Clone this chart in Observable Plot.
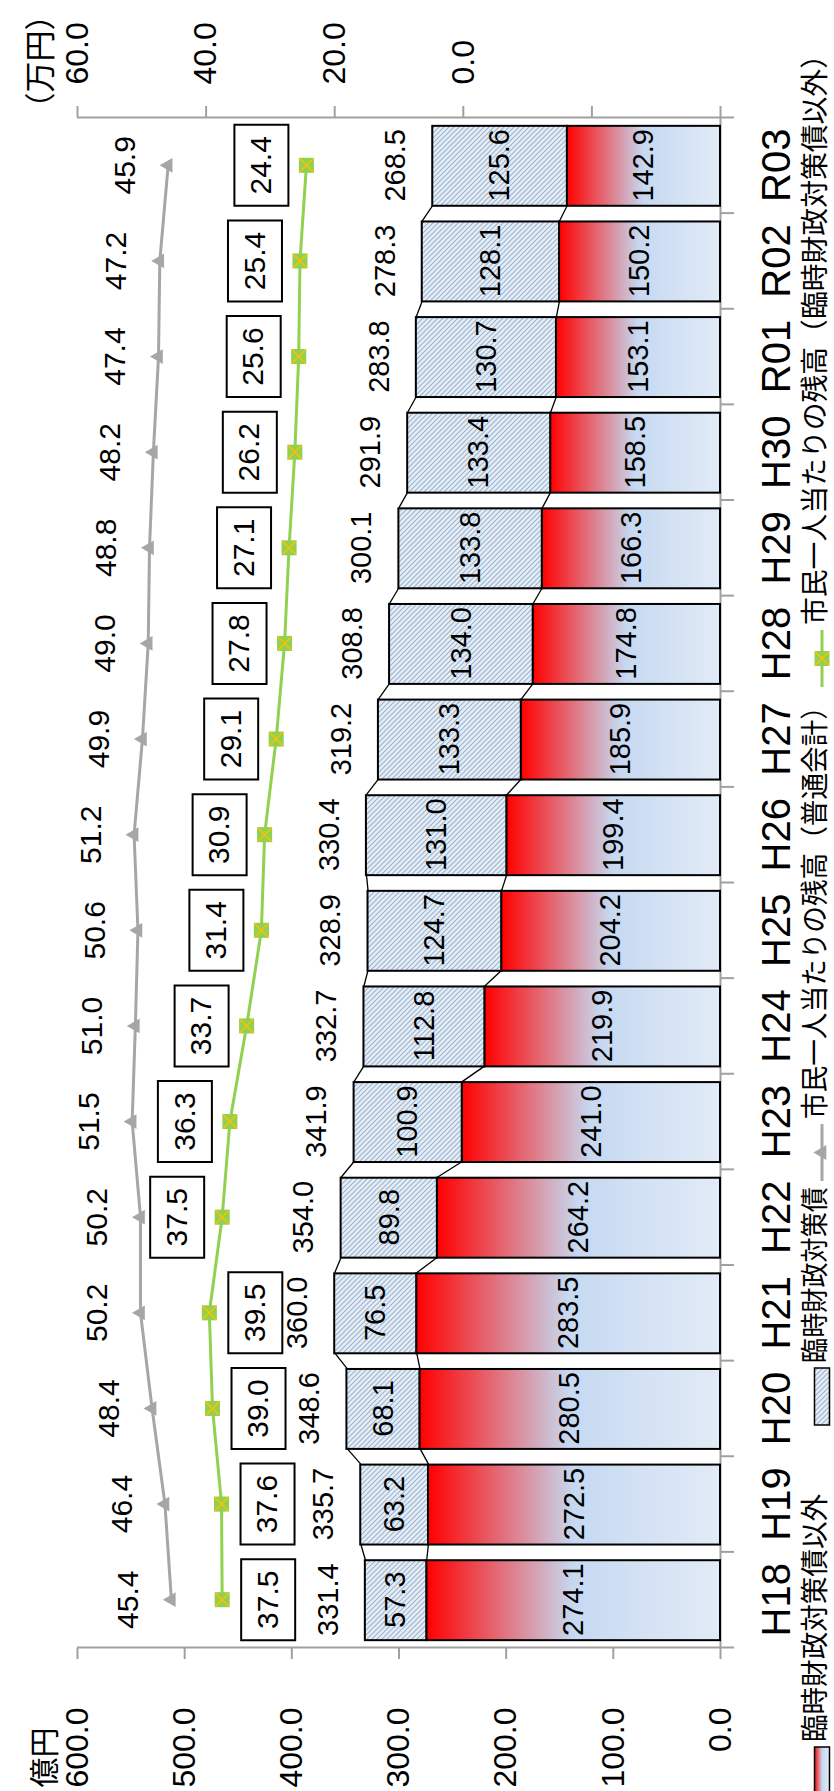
<!DOCTYPE html>
<html><head><meta charset="utf-8">
<script src="https://cdn.jsdelivr.net/npm/d3@7"></script>
<script src="https://cdn.jsdelivr.net/npm/@observablehq/plot@0.6"></script>
<style>
html,body{margin:0;padding:0;background:#fff;}
body{width:834px;height:1791px;overflow:hidden;position:relative;}
#wrap{position:absolute;left:0;top:0;width:1791px;height:834px;overflow:hidden;transform-origin:0 0;transform:translate(0px,1791px) rotate(-90deg);background:#fff;font-family:"Liberation Sans","Noto Sans CJK JP",sans-serif;}
#legend{position:absolute;left:0;top:790px;}
</style></head><body>
<svg width="0" height="0" style="position:absolute">
<defs>
<linearGradient id="gradA" x1="0" y1="0" x2="0" y2="1">
<stop offset="0" stop-color="#ff0000"/>
<stop offset="0.5" stop-color="#c6d9f1"/>
<stop offset="1" stop-color="#e2ebf7"/>
</linearGradient>
<pattern id="hatch" patternUnits="userSpaceOnUse" width="5" height="5">
<rect width="5" height="5" fill="#e4edf8"/>
<path d="M-1,-1L6,6M-1,4L1,6M4,-1L6,1" stroke="#9fb4ca" stroke-width="1.1"/>
</pattern>
</defs></svg>
<div id="wrap"></div>
<script>
// ---- data ----
const categories = ["H18","H19","H20","H21","H22","H23","H24","H25","H26","H27","H28","H29","H30","R01","R02","R03"];
const otherDebt = [274.1,272.5,280.5,283.5,264.2,241.0,219.9,204.2,199.4,185.9,174.8,166.3,158.5,153.1,150.2,142.9]; // 臨時財政対策債以外
const rinzaiDebt = [57.3,63.2,68.1,76.5,89.8,100.9,112.8,124.7,131.0,133.3,134.0,133.8,133.4,130.7,128.1,125.6]; // 臨時財政対策債
const totals = [331.4,335.7,348.6,360.0,354.0,341.9,332.7,328.9,330.4,319.2,308.8,300.1,291.9,283.8,278.3,268.5];
const perCapitaGeneral = [45.4,46.4,48.4,50.2,50.2,51.5,51.0,50.6,51.2,49.9,49.0,48.8,48.2,47.4,47.2,45.9];
const perCapitaOther = [37.5,37.6,39.0,39.5,37.5,36.3,33.7,31.4,30.9,29.1,27.8,27.1,26.2,25.6,25.4,24.4];
const leftTicks = [0,100,200,300,400,500,600];
const rightTicks = [-40,-20,0,20,40,60];
const leftDomain = [0,600];
const rightDomain = [-40,60];
const seriesNames = ["臨時財政対策債以外","臨時財政対策債","市民一人当たりの残高（普通会計）","市民一人当たりの残高（臨時財政対策債以外）"];
const leftUnit = "億円";
const rightUnit = "（万円）";

// ---- build ----
const toLeft = d3.scaleLinear(rightDomain, leftDomain);
const rows = categories.map((c,i)=>({i, cat:c, a:otherDebt[i], b:rinzaiDebt[i], total:totals[i], g:perCapitaGeneral[i], o:perCapitaOther[i]}));
const bw = 0.836;
const segs = rows.slice(0,-1).map((r,k)=>({x1:r.i+bw/2, x2:r.i+1-bw/2, ya1:r.a, ya2:rows[k+1].a, yt1:r.total, yt2:rows[k+1].total}));
const boundaries = d3.range(categories.length+1).map(i=>i-0.5);
const gray = "#a6a6a6", axisGray = "#a0a0a0", green = "#92d050";
const boxSymbol = {draw(ctx){ctx.rect(-40.5,-27,81,54);}};
const below = rows.filter(d=>d.i<4), above = rows.filter(d=>d.i>=4);
const fmt = d3.format(".1f");
const cjk = '"Noto Sans CJK JP","Liberation Sans",sans-serif';

const plot = Plot.plot({
  width:1791, height:790, marginTop:77, marginBottom:70, marginLeft:143, marginRight:118,
  x:{type:"linear", domain:[-0.5, categories.length-0.5], label:null},
  y:{domain:leftDomain, label:null},
  style:{fontFamily:'"Liberation Sans","Noto Sans CJK JP",sans-serif', fontSize:"30px", color:"black", background:"white", overflow:"visible"},
  marks:[
    Plot.axisY(leftTicks, {anchor:"left", label:null, tickSize:11, tickPadding:49, tickFormat:fmt, stroke:axisGray, strokeWidth:2, fontSize:32}),
    Plot.axisY(rightTicks.map(toLeft), {anchor:"right", label:null, tickSize:11, tickPadding:22, tickFormat:d=>{const v=Math.round(toLeft.invert(d)); return v>=0?fmt(v):"";}, stroke:axisGray, strokeWidth:2, fontSize:32}),
    Plot.axisX(d3.range(categories.length), {label:null, tickSize:0, tickPadding:41, tickFormat:i=>categories[i], fontSize:40}),
    Plot.ruleX(boundaries, {y1:0, y2:0, insetBottom:-14, stroke:axisGray, strokeWidth:2}),
    Plot.ruleX([boundaries[0], boundaries[boundaries.length-1]], {stroke:axisGray, strokeWidth:2}),
    Plot.ruleY([0], {stroke:axisGray, strokeWidth:2}),
    Plot.rectY(rows, {x1:d=>d.i-bw/2, x2:d=>d.i+bw/2, y1:0, y2:"a", fill:"url(#gradA)", stroke:"black", strokeWidth:2}),
    Plot.rectY(rows, {x1:d=>d.i-bw/2, x2:d=>d.i+bw/2, y1:"a", y2:"total", fill:"url(#hatch)", stroke:"black", strokeWidth:2}),
    Plot.link(segs, {x1:"x1", x2:"x2", y1:"ya1", y2:"ya2", stroke:"black", strokeWidth:1.3}),
    Plot.link(segs, {x1:"x1", x2:"x2", y1:"yt1", y2:"yt2", stroke:"black", strokeWidth:1.3}),
    Plot.text(rows, {x:"i", y:d=>d.a/2, text:d=>fmt(d.a), fontSize:29}),
    Plot.text(rows, {x:"i", y:d=>d.a+d.b/2, text:d=>fmt(d.b), fontSize:29}),
    Plot.text(rows, {x:"i", y:"total", text:d=>fmt(d.total), dy:-37, fontSize:29}),
    Plot.line(rows, {x:"i", y:d=>toLeft(d.g), stroke:gray, strokeWidth:3}),
    Plot.dot(rows, {x:"i", y:d=>toLeft(d.g), symbol:"triangle", r:5.5, fill:gray}),
    Plot.text(rows, {x:"i", y:d=>toLeft(d.g), text:d=>fmt(d.g), dy:-43, fontSize:30}),
    Plot.line(rows, {x:"i", y:d=>toLeft(d.o), stroke:green, strokeWidth:3}),
    Plot.dot(rows, {x:"i", y:d=>toLeft(d.o), symbol:"square", r:8.5, fill:green}),
    Plot.dot(rows, {x:"i", y:d=>toLeft(d.o), symbol:"times", r:6.2, stroke:"#ffc000", strokeWidth:1.5}),
    Plot.dot(below, {x:"i", y:d=>toLeft(d.o), dy:46, symbol:boxSymbol, fill:"white", stroke:"black", strokeWidth:2}),
    Plot.text(below, {x:"i", y:d=>toLeft(d.o), dy:46, text:d=>fmt(d.o), fontSize:30}),
    Plot.dot(above, {x:"i", y:d=>toLeft(d.o), dy:-45, symbol:boxSymbol, fill:"white", stroke:"black", strokeWidth:2}),
    Plot.text(above, {x:"i", y:d=>toLeft(d.o), dy:-45, text:d=>fmt(d.o), fontSize:30}),
    Plot.text([leftUnit], {frameAnchor:"top-left", dx:-140, dy:-44, textAnchor:"start", fontSize:30, fontFamily:cjk}),
    Plot.text([rightUnit], {frameAnchor:"top-right", dx:-6, dy:-49, textAnchor:"start", fontSize:31, fontFamily:cjk})
  ]
});
const wrap = document.getElementById("wrap");
wrap.appendChild(plot);

// ---- legend ----
const lg = d3.select(wrap).append("svg").attr("id","legend").attr("width",1791).attr("height",44)
  .style("font-family",cjk).style("overflow","visible");
const ky = 32, ty = 23;
const items = [
  {key:"rect", fill:"url(#gradA)", kx:-13, tx:49, tw:248},
  {key:"rect", fill:"url(#hatch)", kx:366, tx:428, tw:176},
  {key:"line", color:gray, sym:d3.symbolTriangle, size:97, kx:610, tx:672, tw:426},
  {key:"line", color:green, sym:d3.symbolSquare, size:225, kx:1104, tx:1166, tw:584}
];
items.forEach((it,k)=>{
  if (it.key==="rect") {
    lg.append("rect").attr("x",it.kx).attr("y",ky-7.5).attr("width",57).attr("height",15)
      .attr("fill",it.fill).attr("stroke","black").attr("stroke-width",1.5);
  } else {
    lg.append("line").attr("x1",it.kx).attr("x2",it.kx+57).attr("y1",ky).attr("y2",ky)
      .attr("stroke",it.color).attr("stroke-width",3);
    lg.append("path").attr("transform",`translate(${it.kx+28.5},${ky})`)
      .attr("d",d3.symbol(it.sym,it.size)()).attr("fill",it.color);
    if (k===3) lg.append("path").attr("transform",`translate(${it.kx+28.5},${ky})`)
      .attr("d",d3.symbol(d3.symbolTimes,128)()).attr("fill","none").attr("stroke","#ffc000").attr("stroke-width",1.5);
  }
  lg.append("text").attr("x",it.tx).attr("y",ty).attr("dominant-baseline","central")
    .attr("font-size",28).attr("textLength",it.tw).attr("lengthAdjust","spacingAndGlyphs")
    .text(seriesNames[k]);
});
</script>
</body></html>
